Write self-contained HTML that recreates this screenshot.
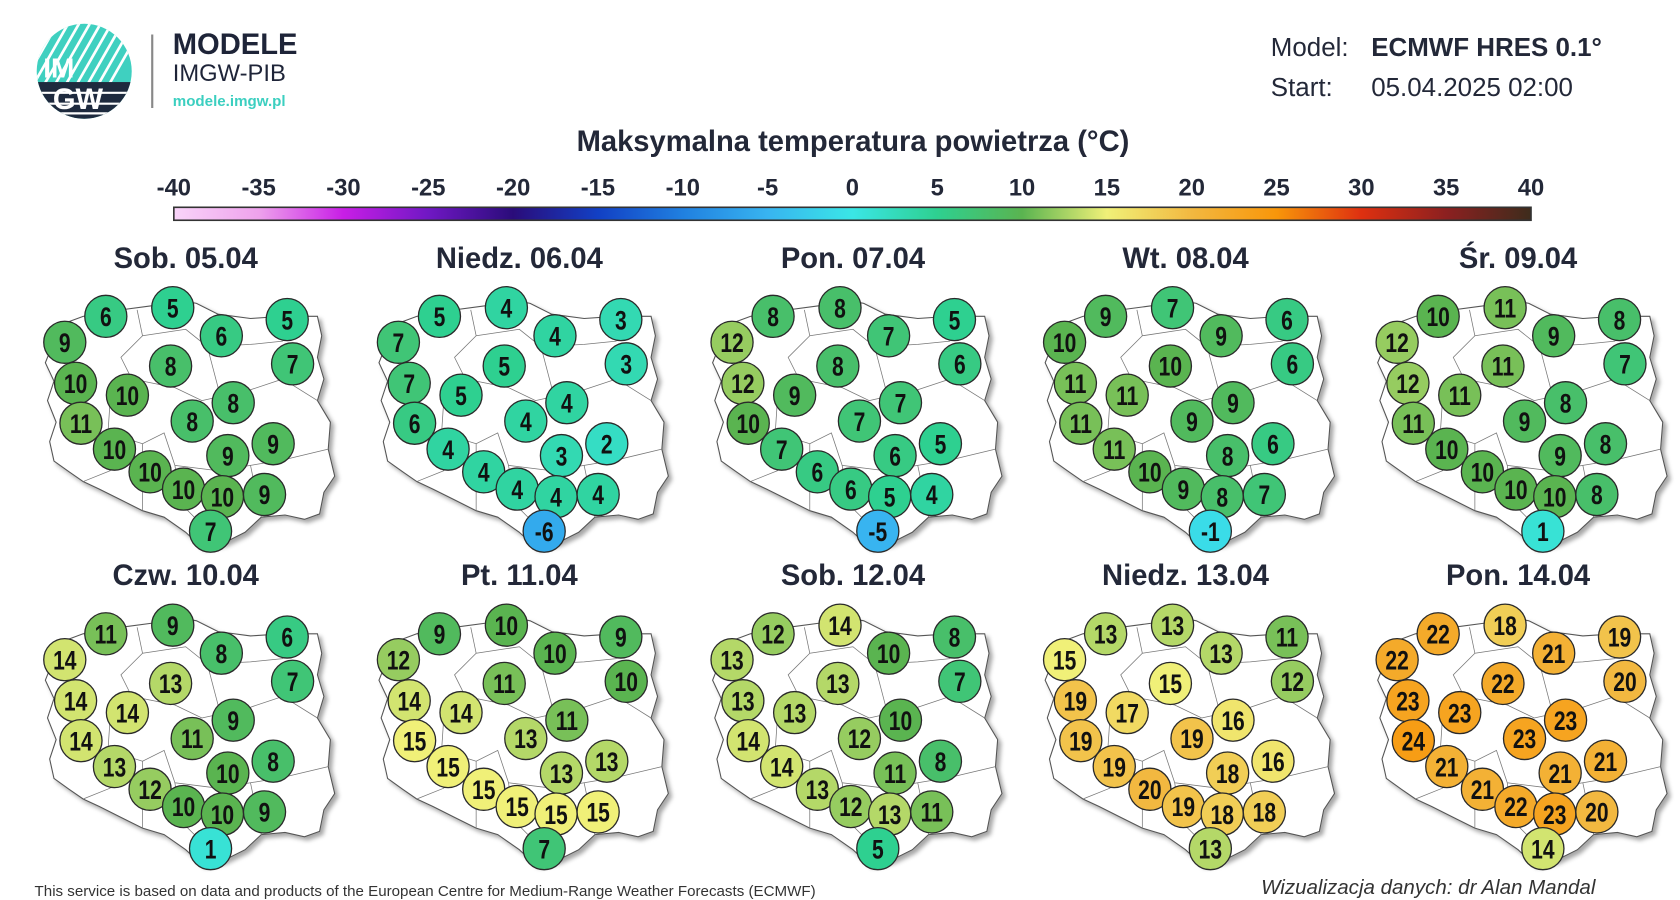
<!DOCTYPE html>
<html><head><meta charset="utf-8">
<style>
html,body{margin:0;padding:0;background:#fff;width:1680px;height:900px;overflow:hidden}
#root{position:absolute;left:0;top:0;width:1556px;height:834px;transform:scale(1.0797);transform-origin:0 0;font-family:"Liberation Sans","DejaVu Sans",sans-serif;color:#232838}
.t{position:absolute;white-space:nowrap}
</style></head><body>
<div id="root">
<svg width="1556" height="834" style="position:absolute;left:0;top:0" id="svg">
<defs>
<clipPath id="lc"><circle cx="78" cy="66" r="44"/></clipPath>
<linearGradient id="cb" x1="0" x2="1" y1="0" y2="0">
<stop offset="0" stop-color="#f9d4f9"/>
<stop offset="0.0625" stop-color="#eea2ec"/>
<stop offset="0.125" stop-color="#c81ee6"/>
<stop offset="0.1875" stop-color="#7018c4"/>
<stop offset="0.25" stop-color="#2a0c7a"/>
<stop offset="0.3125" stop-color="#1240c4"/>
<stop offset="0.375" stop-color="#2080e0"/>
<stop offset="0.4375" stop-color="#38b4f0"/>
<stop offset="0.5" stop-color="#3ae6e6"/>
<stop offset="0.5625" stop-color="#2ed090"/>
<stop offset="0.625" stop-color="#5ab450"/>
<stop offset="0.6875" stop-color="#f0f078"/>
<stop offset="0.75" stop-color="#f2b840"/>
<stop offset="0.8125" stop-color="#f8960a"/>
<stop offset="0.875" stop-color="#de3010"/>
<stop offset="0.9375" stop-color="#8c2020"/>
<stop offset="1" stop-color="#3e2c1c"/>
</linearGradient>
<filter id="sh" x="-10%" y="-10%" width="130%" height="130%"><feDropShadow dx="3" dy="3" stdDeviation="2" flood-color="#000" flood-opacity="0.35"/></filter>
</defs>
<g clip-path="url(#lc)">
<rect x="30" y="20" width="100" height="100" fill="#3fd0c0"/>
<g stroke="#fff" stroke-width="2.5">
<line x1="40" y1="80" x2="80" y2="10"/><line x1="50" y1="80" x2="90" y2="10"/><line x1="60" y1="80" x2="100" y2="10"/><line x1="70" y1="80" x2="110" y2="10"/><line x1="80" y1="80" x2="120" y2="10"/><line x1="90" y1="80" x2="130" y2="10"/><line x1="30" y1="80" x2="70" y2="10"/><line x1="20" y1="80" x2="60" y2="10"/><line x1="100" y1="80" x2="140" y2="10"/>
</g>
<rect x="30" y="76" width="100" height="40" fill="#1e2a3e"/>
<g stroke="#fff" stroke-width="2"><line x1="30" y1="86" x2="130" y2="86"/><line x1="30" y1="96" x2="130" y2="96"/><line x1="30" y1="105" x2="130" y2="105"/></g>
<text x="40" y="72" font-family="Liberation Sans" font-weight="bold" font-size="26" fill="#fff">IM</text>
<text x="49" y="101" font-family="Liberation Sans" font-weight="bold" font-size="27" fill="#fff">GW</text>
</g>
<line x1="141" y1="32" x2="141" y2="100" stroke="#888" stroke-width="2"/>
<rect x="161" y="192" width="1257" height="12" fill="url(#cb)" stroke="#333" stroke-width="1.5"/>
<g id="maps"></g>
</svg>
<div class="t" style="left:160px;top:26px;font-size:27px;font-weight:bold;color:#1e2438">MODELE</div>
<div class="t" style="left:160px;top:55px;font-size:22px;color:#1e2438">IMGW-PIB</div>
<div class="t" style="left:160px;top:85px;font-size:14px;font-weight:bold;color:#3ccfc0">modele.imgw.pl</div>
<div class="t" style="left:1177px;top:31px;font-size:24px;color:#232838">Model:</div>
<div class="t" style="left:1270px;top:31px;font-size:24px;font-weight:bold;color:#232838">ECMWF HRES 0.1°</div>
<div class="t" style="left:1177px;top:68px;font-size:24px;color:#232838">Start:</div>
<div class="t" style="left:1270px;top:68px;font-size:24px;color:#232838">05.04.2025 02:00</div>
<div class="t" style="left:0;width:1580px;text-align:center;top:116px;font-size:27px;font-weight:bold">Maksymalna temperatura powietrza (°C)</div>
<div id="labels"></div>
<div class="t" style="left:32px;top:817px;font-size:14px;color:#333">This service is based on data and products of the European Centre for Medium-Range Weather Forecasts (ECMWF)</div>
<div class="t" style="left:1168px;top:812px;font-size:19px;font-style:italic;color:#333">Wizualizacja danych: dr Alan Mandal</div>
</div>
<script>
var lab=document.getElementById('labels'),h='';
for(var i=0;i<=16;i++){var v=-40+5*i,x=161+i*1257/16;h+='<div class="t" style="left:'+(x-40)+'px;width:80px;text-align:center;top:161px;font-size:22px;font-weight:bold">'+v+'</div>';}
var titles=['Sob. 05.04','Niedz. 06.04','Pon. 07.04','Wt. 08.04','Śr. 09.04','Czw. 10.04','Pt. 11.04','Sob. 12.04','Niedz. 13.04','Pon. 14.04'];
var cxs=[172,481,790,1098,1406],tys=[241,535];
for(var k=0;k<10;k++){var cx=cxs[k%5],ty=tys[Math.floor(k/5)];h+='<div class="t" style="left:'+(cx-150)+'px;width:300px;text-align:center;top:'+(ty-17)+'px;font-size:27px;font-weight:bold">'+titles[k]+'</div>';}
lab.innerHTML=h;
var P=[[-112,76],[-74,52],[-12,44],[33,70],[94,55],[99,96],[-102,114],[-54,125],[-14,98],[-97,151],[6,149],[44,132],[-66,175],[39,181],[81,170],[-33,196],[-2,212],[34,219],[73,217],[23,251]];
var V=[[9,6,5,6,5,7,10,10,8,11,8,8,10,9,9,10,10,10,9,7],
[7,5,4,4,3,3,7,5,5,6,4,4,4,3,2,4,4,4,4,-6],
[12,8,8,7,5,6,12,9,8,10,7,7,7,6,5,6,6,5,4,-5],
[10,9,7,9,6,6,11,11,10,11,9,9,11,8,6,10,9,8,7,-1],
[12,10,11,9,8,7,12,11,11,11,9,8,10,9,8,10,10,10,8,1],
[14,11,9,8,6,7,14,14,13,14,11,9,13,10,8,12,10,10,9,1],
[12,9,10,10,9,10,14,14,11,15,13,11,15,13,13,15,15,15,15,7],
[13,12,14,10,8,7,13,13,13,14,12,10,14,11,8,13,12,13,11,5],
[15,13,13,13,11,12,19,17,15,19,19,16,19,18,16,20,19,18,18,13],
[22,22,18,21,19,20,23,23,22,24,23,23,21,21,21,21,22,23,20,14]];
var S=[[-40,[249,212,249]],[-35,[238,162,236]],[-30,[200,30,230]],[-25,[112,24,196]],[-20,[42,12,122]],[-15,[18,64,196]],[-10,[32,128,224]],[-5,[56,180,240]],[0,[58,230,230]],[5,[46,208,144]],[10,[90,180,80]],[15,[240,240,120]],[20,[242,184,64]],[25,[248,150,10]],[30,[222,48,16]],[35,[140,32,32]],[40,[62,44,28]]];
function col(v){for(var i=0;i<S.length-1;i++){if(v<=S[i+1][0]){var t=(v-S[i][0])/5,a=S[i][1],b=S[i+1][1];return 'rgb('+a.map(function(c,j){return Math.round(c+(b[j]-c)*t)}).join(',')+')';}}return 'rgb(62,44,28)';}
var outline=[[-122,62],[-95,52],[-60,46],[-30,42],[-10,36],[10,40],[30,50],[60,54],[90,52],[122,52],[126,70],[122,90],[128,110],[122,130],[134,150],[132,175],[138,200],[128,215],[124,235],[110,240],[92,236],[70,238],[55,252],[35,262],[15,266],[0,252],[-20,238],[-40,232],[-60,222],[-80,212],[-95,205],[-108,196],[-122,186],[-126,168],[-120,150],[-128,130],[-122,112],[-130,95],[-124,80]];
var inner=[[[-45,46],[-40,70],[-60,90],[-50,110],[-70,130],[-72,160]],[[-40,70],[0,64],[20,80],[60,78],[90,75]],[[-50,110],[-10,118],[15,130],[60,120],[90,110],[122,130]],[[20,80],[30,118]],[[-72,160],[-40,170],[-20,160],[-10,190],[30,195],[60,190],[90,185],[132,175]],[[-10,190],[-5,225],[10,240]],[[30,195],[35,240]],[[60,190],[70,238]],[[-95,205],[-70,195],[-72,160]],[[-40,170],[-40,232]]];
var g='';
for(var k=0;k<10;k++){var cx=cxs[k%5],ty=tys[Math.floor(k/5)];
var pts=outline.map(function(p){return (cx+p[0])+','+(ty+p[1])}).join(' ');
g+='<polygon points="'+pts+'" fill="#fff" stroke="#555" stroke-width="1" filter="url(#sh)"/>';
inner.forEach(function(l){g+='<polyline points="'+l.map(function(p){return (cx+p[0])+','+(ty+p[1])}).join(' ')+'" fill="none" stroke="#777" stroke-width="0.7"/>';});
for(var i=0;i<20;i++){var x=cx+P[i][0],y=ty+P[i][1],v=V[k][i];
g+='<circle cx="'+x+'" cy="'+y+'" r="19.5" fill="'+col(v)+'" stroke="#2a2a2a" stroke-width="1.2"/>';
g+='<text x="'+x+'" y="'+(y+9)+'" text-anchor="middle" font-family="Liberation Sans" font-weight="bold" font-size="25" fill="#111" transform="translate('+x+' 0) scale(0.78 1) translate('+(-x)+' 0)">'+v+'</text>';}}
document.getElementById('maps').innerHTML=g;
</script>
</body></html>
